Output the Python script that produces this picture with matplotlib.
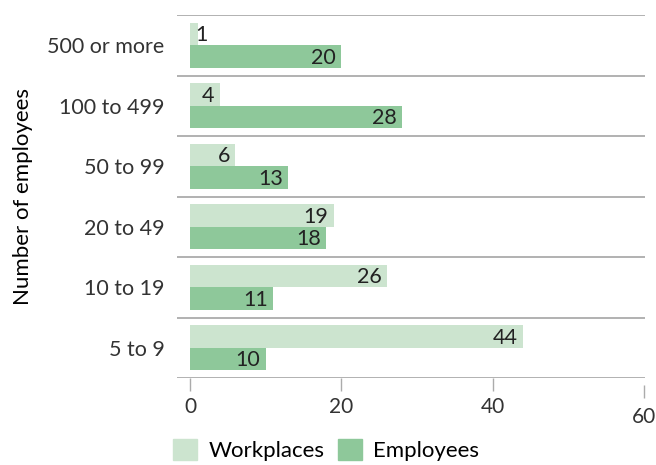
import numpy as np
import matplotlib.pyplot as plt
from matplotlib.patches import Patch
from matplotlib.transforms import ScaledTranslation

plt.rcParams['font.family'] = ['Lato', 'DejaVu Sans']

# data (top to bottom as shown)
categories = ['500 or more', '100 to 499', '50 to 99', '20 to 49', '10 to 19', '5 to 9']
workplaces = [1, 4, 6, 19, 26, 44]
employees = [20, 28, 13, 18, 11, 10]
x_ticks = [0, 20, 40, 60]

light = '#cce4cf'
dark = '#8ec89a'
line_col = '#ababab'
txt_col = '#222222'

fig = plt.figure(figsize=(6.56, 4.65), dpi=100)
ax = fig.add_axes([177 / 656, 1 - 378 / 465, 468 / 656, 363 / 465])

n = len(categories)
ypos = np.arange(n)[::-1]  # top group at highest y
h = 0.37

ax.barh(ypos + h / 2, workplaces, height=h, color=light, zorder=2)
ax.barh(ypos - h / 2, employees, height=h, color=dark, zorder=2)

# value labels at right end of bars
pad = ScaledTranslation(-4 / 72, 0, fig.dpi_scale_trans)
for y, w, e in zip(ypos, workplaces, employees):
    ax.text(max(w, 3), y + h / 2 - 0.02, str(w), ha='right', va='center', fontsize=15.5,
            color=txt_col, transform=ax.transData + pad, zorder=3)
    ax.text(max(e, 3), y - h / 2 - 0.02, str(e), ha='right', va='center', fontsize=15.5,
            color=txt_col, transform=ax.transData + pad, zorder=3)

# separators between groups
for b in np.arange(-0.5, n, 1.0):
    ax.axhline(b, color=line_col, lw=1.3, zorder=1)

ax.set_xlim(-1.72, 60.1)
ax.set_ylim(-0.5, n - 0.5)

ax.set_yticks(ypos)
ax.set_yticklabels(categories, fontsize=15.5, color='#333333')
ax.tick_params(axis='y', length=0, pad=9)

ax.set_xticks(x_ticks[:-1])
ax.set_xticklabels([str(t) for t in x_ticks[:-1]], fontsize=15, color='#333333')
ax.set_xticks([x_ticks[-1]], minor=True)
ax.set_xticklabels([str(x_ticks[-1])], minor=True, fontsize=15, color='#333333')
ax.tick_params(axis='x', which='major', length=9, width=1, color=line_col, pad=5)
ax.tick_params(axis='x', which='minor', length=9, width=1, color=line_col, pad=12)
# the 60 tick sits a little lower in the original
for t in ax.xaxis.get_minor_ticks():
    t.tick1line.set_transform(t.tick1line.get_transform() + ScaledTranslation(0, -5 / 72, fig.dpi_scale_trans))

for s in ['top', 'right', 'left', 'bottom']:
    ax.spines[s].set_visible(False)

ax.set_ylabel('Number of employees', fontsize=16, color='black', labelpad=10)

handles = [Patch(color=light, label='Workplaces'), Patch(color=dark, label='Employees')]
fig.legend(handles=handles, loc='center', bbox_to_anchor=(0.497, 1 - 450 / 465), ncol=2, frameon=False,
           fontsize=16, handlelength=1.1, handleheight=1.1, handletextpad=0.5, columnspacing=0.6)

fig.savefig('out.png', dpi=100)
